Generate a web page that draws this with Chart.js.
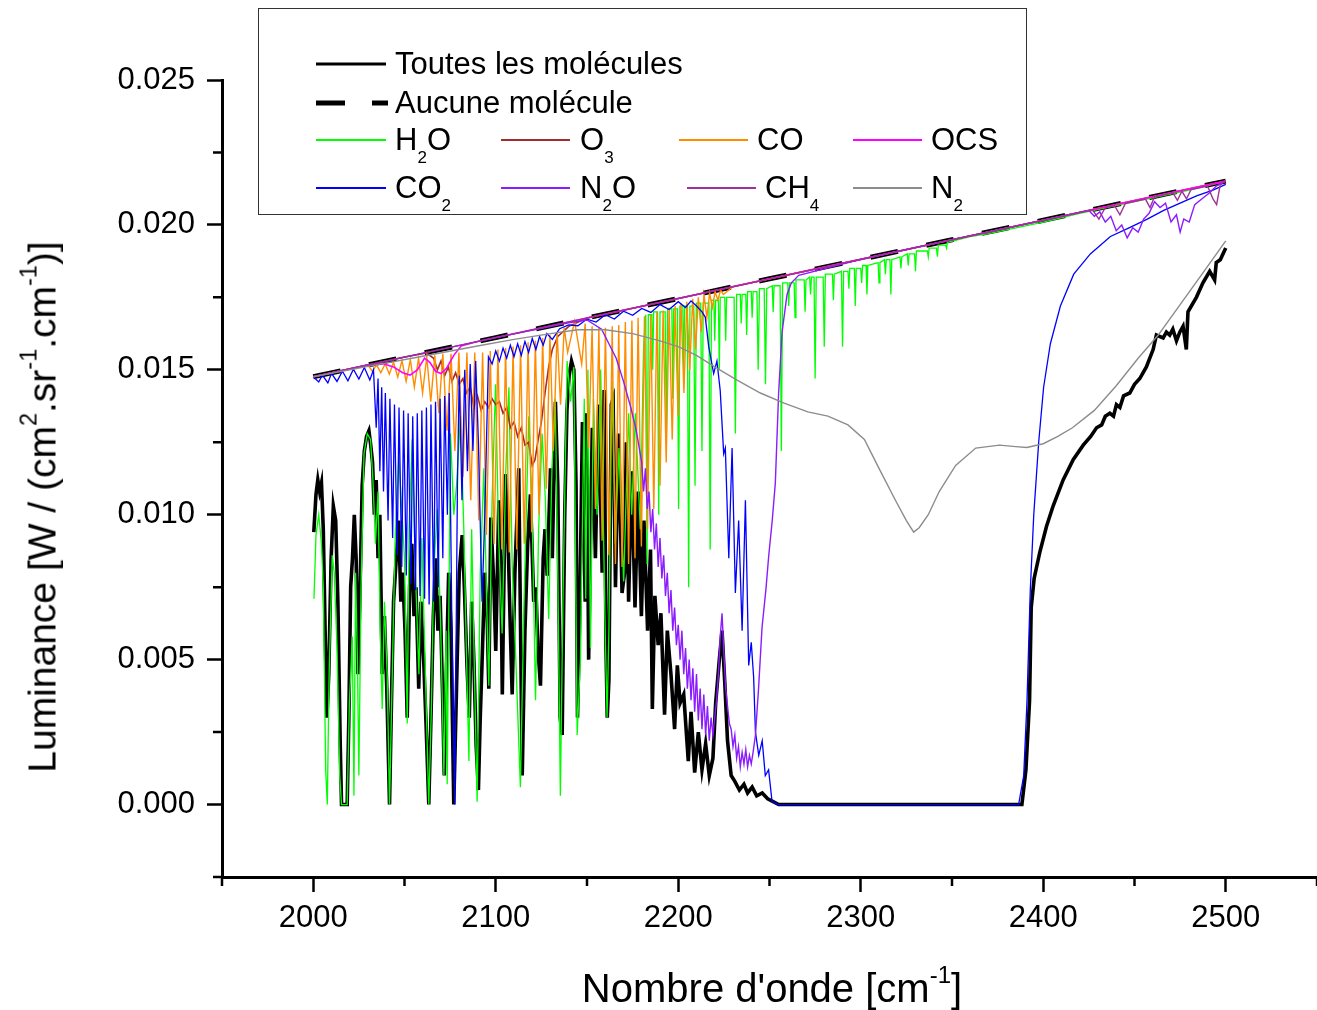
<!DOCTYPE html>
<html lang="fr">
<head>
  <meta charset="UTF-8">
  <title>Luminance - spectre 2000-2500 cm-1</title>
  <style>
    * { box-sizing: border-box; margin: 0; padding: 0; }
    body { background: #fff; font-family: 'Liberation Sans', Arial, sans-serif; color: #000; }
    #wrap { position: relative; width: 1317px; height: 1010px; overflow: hidden; }
    #chart { position: absolute; left: 0; top: 0; }
    .legend-box {
      position: absolute; left: 258px; top: 8px; width: 769px; height: 207px;
      border: 1.5px solid #333;
    }
    .legend-lines { position: absolute; left: 0; top: 0; }
    .lg {
      position: absolute; font-size: 31px; line-height: 1; white-space: nowrap;
    }
    .lg sub { font-size: 0.55em; vertical-align: -0.75em; line-height: 0; }
    .title { position: absolute; line-height: 1; white-space: nowrap; }
    .title sup { font-size: 0.6em; vertical-align: 0.8em; line-height: 0; }
    .xtitle { font-size: 40px; left: 772px; top: 988px; transform: translate(-50%, -50%); }
    .ytitle { font-size: 39px; left: 42px; top: 507px; transform: translate(-50%, -50%) rotate(-90deg); }
  </style>
</head>
<body>
<div id="wrap">
  <canvas id="chart" width="1317" height="1010"></canvas>

  <div class="legend-box"></div>
  <svg class="legend-lines" width="1317" height="230">
    <line x1="316" y1="64" x2="386" y2="64" stroke="#000" stroke-width="3"/>
    <line x1="316" y1="103" x2="345" y2="103" stroke="#000" stroke-width="5"/>
    <line x1="372" y1="103" x2="388" y2="103" stroke="#000" stroke-width="5"/>
    <line x1="316" y1="140" x2="386" y2="140" stroke="#00ff00" stroke-width="2"/>
    <line x1="501" y1="140" x2="570" y2="140" stroke="#a52a2a" stroke-width="2"/>
    <line x1="679" y1="140" x2="748" y2="140" stroke="#ff8c00" stroke-width="2"/>
    <line x1="853" y1="140" x2="922" y2="140" stroke="#ff00ff" stroke-width="2"/>
    <line x1="316" y1="188" x2="386" y2="188" stroke="#0000ff" stroke-width="2"/>
    <line x1="501" y1="188" x2="570" y2="188" stroke="#8a1cff" stroke-width="2"/>
    <line x1="687" y1="188" x2="756" y2="188" stroke="#a0309a" stroke-width="2"/>
    <line x1="853" y1="188" x2="922" y2="188" stroke="#8c8c8c" stroke-width="2"/>
  </svg>
  <span class="lg" style="left:395px;top:48px">Toutes les molécules</span>
  <span class="lg" style="left:395px;top:87px">Aucune molécule</span>
  <span class="lg" style="left:395px;top:124px">H<sub>2</sub>O</span>
  <span class="lg" style="left:580px;top:124px">O<sub>3</sub></span>
  <span class="lg" style="left:757px;top:124px">CO</span>
  <span class="lg" style="left:931px;top:124px">OCS</span>
  <span class="lg" style="left:395px;top:172px">CO<sub>2</sub></span>
  <span class="lg" style="left:580px;top:172px">N<sub>2</sub>O</span>
  <span class="lg" style="left:765px;top:172px">CH<sub>4</sub></span>
  <span class="lg" style="left:931px;top:172px">N<sub>2</sub></span>

  <div class="title ytitle">Luminance [W / (cm<sup>2</sup>.sr<sup>-1</sup>.cm<sup>-1</sup>)]</div>
  <div class="title xtitle">Nombre d'onde [cm<sup>-1</sup>]</div>
</div>

<script src="https://cdn.jsdelivr.net/npm/chart.js"></script>
<script>
  // axis ticks
  const xTicks = [2000, 2100, 2200, 2300, 2400, 2500];
  const xMinor = [1950, 2050, 2150, 2250, 2350, 2450, 2550];
  const yTicks = [0, 0.005, 0.010, 0.015, 0.020, 0.025];
  const yMinor = [-0.0025, 0.0025, 0.0075, 0.0125, 0.0175, 0.0225];

  // Aucune molecule (reference, no absorption)
  const noneX = [2000, 2050, 2100, 2150, 2200, 2250, 2300, 2350, 2400, 2450, 2500];
  const noneY = [0.01476, 0.01544, 0.01611, 0.01679, 0.01746, 0.01814, 0.01881, 0.01949, 0.02016, 0.02084, 0.02151];

  // Toutes les molecules
  const toutesX = [
    2000.3, 2001.5, 2002.5, 2003.5, 2004.5, 2005.5, 2006.5, 2007.5, 2008.5, 2009.8,
    2011.0, 2012.3, 2013.5, 2014.8, 2015.5, 2018.6, 2019.5, 2020.5, 2021.5, 2022.5,
    2023.5, 2024.5, 2025.5, 2026.8, 2028.0, 2029.2, 2030.5, 2031.5, 2032.5, 2033.5,
    2034.5, 2035.5, 2036.5, 2037.8, 2039.0, 2040.3, 2041.8, 2043.0, 2044.0, 2045.5,
    2046.8, 2048.0, 2049.0, 2050.3, 2051.5, 2052.8, 2054.0, 2055.2, 2056.3, 2057.8,
    2059.0, 2060.5, 2061.8, 2063.3, 2064.5, 2065.8, 2067.0, 2068.3, 2069.5, 2070.8,
    2071.8, 2073.0, 2074.2, 2075.5, 2077.0, 2078.5, 2080.0, 2081.6, 2082.8, 2084.3,
    2085.5, 2086.8, 2088.0, 2089.3, 2090.5, 2091.5, 2092.5, 2094.0, 2095.3, 2096.2,
    2097.3, 2099.0, 2100.0, 2101.7, 2102.8, 2103.6, 2105.3, 2106.8, 2108.0, 2109.0,
    2110.5, 2112.6, 2113.6, 2114.5, 2116.0, 2117.5, 2119.0, 2120.8, 2122.0, 2123.0,
    2124.5, 2126.0, 2127.0, 2128.2, 2130.0, 2131.0, 2132.7, 2134.0, 2135.3, 2136.4,
    2137.8, 2139.0, 2140.2, 2141.5, 2142.8, 2144.0, 2144.8, 2146.0, 2147.5, 2149.0,
    2149.9, 2150.9, 2152.9, 2154.6, 2156.4, 2158.3, 2159.4, 2160.4, 2161.1, 2162.0,
    2163.3, 2164.3, 2165.6, 2167.3, 2169.2, 2170.6, 2171.5, 2172.8, 2174.5, 2176.3,
    2178.0, 2179.8, 2181.2, 2183.2, 2184.8, 2185.8, 2187.2, 2189.0, 2190.5, 2192.5,
    2194.0, 2196.0, 2198.0, 2199.5, 2201.0, 2203.0, 2205.5, 2207.0, 2209.0, 2211.0,
    2213.0, 2215.0, 2217.0, 2219.0, 2220.5, 2222.5, 2224.0, 2225.5, 2227.0, 2229.0,
    2231.0, 2233.5, 2236.0, 2238.0, 2240.5, 2243.0, 2246.0, 2249.0, 2252.0, 2255.0,
    2300.0, 2350.0, 2388.3, 2390.5, 2392.5, 2393.4, 2395.0, 2398.1, 2401.8, 2405.4,
    2410.9, 2416.4, 2421.9, 2426.0, 2429.2, 2432.0, 2434.0, 2436.5, 2438.5, 2440.1,
    2442.0, 2444.0, 2447.4, 2450.0, 2452.9, 2456.5, 2460.2, 2462.0, 2465.7, 2467.5,
    2469.3, 2471.0, 2473.0, 2474.8, 2476.6, 2478.4, 2479.3, 2483.9, 2487.5, 2491.2,
    2493.9, 2494.8, 2497.0, 2500.0
  ];
  const toutesY = [
    0.0094, 0.0107, 0.0112, 0.0108, 0.0111, 0.0095, 0.0060, 0.0030, 0.0045, 0.0085,
    0.0103, 0.0098, 0.0070, 0.0020, 0.0000, 0.0000, 0.0030, 0.0075, 0.0085, 0.0100,
    0.0085, 0.0045, 0.0070, 0.0110, 0.0122, 0.0127, 0.0129, 0.0124, 0.0118, 0.0100,
    0.0112, 0.0085, 0.0100, 0.0045, 0.0065, 0.0040, 0.0000, 0.0040, 0.0070, 0.0085,
    0.0098, 0.0070, 0.0080, 0.0060, 0.0030, 0.0075, 0.0090, 0.0065, 0.0075, 0.0040,
    0.0070, 0.0050, 0.0028, 0.0000, 0.0030, 0.0065, 0.0085, 0.0060, 0.0072, 0.0040,
    0.0010, 0.0047, 0.0080, 0.0060, 0.0000, 0.0040, 0.0080, 0.0093, 0.0075, 0.0047,
    0.0030, 0.0070, 0.0050, 0.0020, 0.0005, 0.0030, 0.0049, 0.0080, 0.0065, 0.0040,
    0.0099, 0.0075, 0.0053, 0.0105, 0.0080, 0.0038, 0.0114, 0.0090, 0.0060, 0.0038,
    0.0080, 0.0116, 0.0060, 0.0010, 0.0060, 0.0090, 0.0107, 0.0070, 0.0075, 0.0055,
    0.0041, 0.0085, 0.0095, 0.0079, 0.0116, 0.0085, 0.0139, 0.0110, 0.0030, 0.0024,
    0.0100, 0.0136, 0.0148, 0.0153, 0.0150, 0.0110, 0.0030, 0.0065, 0.0132, 0.0070,
    0.0135, 0.0050, 0.0130, 0.0085, 0.0138, 0.0080, 0.0143, 0.0055, 0.0030, 0.0043,
    0.0138, 0.0140, 0.0075, 0.0128, 0.0073, 0.0080, 0.0125, 0.0070, 0.0115, 0.0068,
    0.0108, 0.0065, 0.0098, 0.0060, 0.0088, 0.0033, 0.0072, 0.0055, 0.0066, 0.0031,
    0.0060, 0.0045, 0.0026, 0.0048, 0.0035, 0.0038, 0.0015, 0.0032, 0.0011, 0.0025,
    0.0012, 0.0021, 0.0010, 0.0016, 0.0035, 0.0050, 0.0060, 0.0042, 0.0022, 0.0010,
    0.0008, 0.0005, 0.0007, 0.0004, 0.0006, 0.0003, 0.0004, 0.0002, 0.0001, 0.0000,
    0.0000, 0.0000, 0.0000, 0.0012, 0.0036, 0.0068, 0.0078, 0.0087, 0.0096, 0.0103,
    0.0112, 0.0119, 0.0124, 0.0127, 0.0130, 0.0131, 0.0134, 0.0135, 0.0134, 0.0138,
    0.0137, 0.0141, 0.0142, 0.0145, 0.0147, 0.0151, 0.0157, 0.0162, 0.0161, 0.0163,
    0.0162, 0.0164, 0.0160, 0.0163, 0.0165, 0.0157, 0.0170, 0.0175, 0.0180, 0.0184,
    0.0181, 0.0187, 0.0188, 0.0192
  ];

  // H2O
  const h2oX = [
    2000.4, 2001.5, 2003.0, 2004.5, 2005.5, 2006.8, 2007.7, 2008.7, 2010.4, 2011.5,
    2013.0, 2014.5, 2015.5, 2018.6, 2019.8, 2021.4, 2022.3, 2023.2, 2024.2, 2025.0,
    2026.2, 2027.8, 2029.6, 2031.4, 2032.7, 2034.1, 2035.5, 2036.7, 2037.8, 2039.0,
    2040.5, 2041.8, 2043.3, 2044.8, 2046.9, 2048.5, 2050.0, 2051.5, 2052.5, 2054.2,
    2056.0, 2057.9, 2059.5, 2061.0, 2063.3, 2064.8, 2066.0, 2067.9, 2069.8, 2071.6,
    2072.8, 2073.4, 2075.2, 2077.0, 2078.5, 2080.7, 2082.5, 2084.0, 2085.3, 2086.8,
    2088.5, 2089.8, 2091.5, 2093.5, 2095.0, 2096.2, 2098.0, 2099.9, 2101.5, 2103.5,
    2105.5, 2107.2, 2109.0, 2111.0, 2113.5, 2115.5, 2118.1, 2119.8, 2121.8, 2123.5,
    2125.4, 2127.2, 2129.0, 2130.8, 2132.6, 2134.0, 2135.4, 2136.8, 2139.1, 2141.0,
    2142.8, 2144.6, 2146.4, 2148.5, 2149.3, 2150.5, 2151.9, 2153.5, 2155.5, 2157.5,
    2160.0, 2161.0, 2162.0, 2163.7, 2165.5, 2167.5, 2170.1, 2172.8, 2174.5, 2176.5,
    2179.2, 2181.0,
    2182.2, 2182.9, 2183.6, 2185.5, 2186.0, 2186.5, 2188.6, 2189.3, 2190.0,
    2192.8, 2193.5, 2194.2, 2196.5, 2197.0, 2197.5, 2199.5, 2200.2, 2200.9,
    2202.5, 2203.0, 2203.5, 2205.0, 2205.7, 2206.4, 2208.5, 2209.2, 2209.9,
    2212.3, 2213.0, 2213.7, 2216.8, 2217.5, 2218.2, 2219.5, 2220.0, 2220.5,
    2222.0, 2222.5, 2223.0, 2225.5, 2226.0, 2226.5, 2230.6, 2231.3, 2232.0,
    2234.0, 2234.5, 2235.0, 2237.0, 2237.5, 2238.0, 2240.0, 2240.5, 2241.0,
    2243.1, 2243.8, 2244.5, 2247.1, 2247.8, 2248.5, 2251.5, 2252.0, 2252.5,
    2255.8, 2256.5, 2257.2, 2260.0, 2260.5, 2261.0, 2263.5, 2264.0, 2264.5,
    2269.0, 2269.5, 2270.0, 2272.0, 2272.5, 2273.0, 2274.4, 2275.0, 2275.6,
    2279.4, 2280.0, 2280.6, 2284.5, 2285.0, 2285.5, 2289.4, 2290.0, 2290.6,
    2293.0, 2293.5, 2294.0, 2296.5, 2297.0, 2297.5, 2300.0, 2300.5, 2301.0,
    2302.9, 2303.4, 2303.9, 2309.5, 2310.0, 2310.5, 2313.0, 2313.5, 2314.0,
    2316.0, 2316.5, 2317.0, 2321.5, 2322.0, 2322.5, 2325.5, 2326.0, 2326.5,
    2329.5, 2330.0, 2330.5, 2336.5, 2337.0, 2337.5, 2341.5, 2342.0, 2342.5,
    2346.5, 2347.0, 2347.5, 2360, 2370, 2400, 2420, 2450, 2480, 2500
  ];
  const h2oY = [
    0.0071, 0.0093, 0.0100, 0.0090, 0.0075, 0.0012, 0.0000, 0.0045, 0.0086, 0.0080,
    0.0055, 0.0010, 0.0000, 0.0000, 0.0035, 0.0058, 0.0003, 0.0080, 0.0050, 0.0010,
    0.0075, 0.0121, 0.0128, 0.0126, 0.0112, 0.0090, 0.0108, 0.0060, 0.0033, 0.0070,
    0.0045, 0.0000, 0.0045, 0.0090, 0.0120, 0.0102, 0.0085, 0.0028, 0.0095, 0.0126,
    0.0080, 0.0045, 0.0092, 0.0056, 0.0000, 0.0035, 0.0080, 0.0102, 0.0062, 0.0010,
    0.0060, 0.0007, 0.0128, 0.0100, 0.0110, 0.0134, 0.0095, 0.0050, 0.0015, 0.0095,
    0.0040, 0.0001, 0.0080, 0.0116, 0.0070, 0.0041, 0.0105, 0.0145, 0.0094, 0.0059,
    0.0115, 0.0144, 0.0083, 0.0050, 0.0006, 0.0070, 0.0134, 0.0105, 0.0036, 0.0095,
    0.0128, 0.0105, 0.0064, 0.0116, 0.0140, 0.0080, 0.0003, 0.0070, 0.0153, 0.0139,
    0.0151, 0.0024, 0.0050, 0.0140, 0.0071, 0.0150, 0.0054, 0.0140, 0.0100, 0.0150,
    0.0059, 0.0030, 0.0060, 0.0146, 0.0090, 0.0123, 0.0077, 0.0135, 0.0100, 0.0135,
    0.0095, 0.0158,
    0.0169, 0.0083, 0.0169, 0.0169, 0.0150, 0.0170, 0.0170, 0.0100, 0.0170,
    0.0170, 0.0128, 0.0171, 0.0171, 0.0140, 0.0171, 0.0171, 0.0102, 0.0172,
    0.0172, 0.0150, 0.0172, 0.0172, 0.0075, 0.0172, 0.0172, 0.0110, 0.0173,
    0.0173, 0.0122, 0.0173, 0.0173, 0.0088, 0.0174, 0.0174, 0.0160, 0.0174,
    0.0174, 0.0150, 0.0175, 0.0175, 0.0160, 0.0175, 0.0175, 0.0128, 0.0176,
    0.0176, 0.0166, 0.0176, 0.0176, 0.0162, 0.0177, 0.0177, 0.0168, 0.0177,
    0.0177, 0.0150, 0.0178, 0.0178, 0.0145, 0.0178, 0.0179, 0.0170, 0.0179,
    0.0179, 0.0122, 0.0180, 0.0180, 0.0172, 0.0180, 0.0180, 0.0168, 0.0181,
    0.0181, 0.0170, 0.0181, 0.0182, 0.0176, 0.0182, 0.0182, 0.0147, 0.0182,
    0.0182, 0.0158, 0.0183, 0.0183, 0.0174, 0.0183, 0.0184, 0.0158, 0.0184,
    0.0184, 0.0178, 0.0185, 0.0185, 0.0172, 0.0185, 0.0185, 0.0180, 0.0186,
    0.0186, 0.0176, 0.0186, 0.0187, 0.0180, 0.0187, 0.0188, 0.0183, 0.0188,
    0.0188, 0.0176, 0.0188, 0.0189, 0.0185, 0.0189, 0.0190, 0.0186, 0.0190,
    0.0190, 0.0184, 0.0191, 0.0191, 0.0189, 0.0192, 0.0192, 0.0189, 0.0193,
    0.0193, 0.0192, 0.0194, 0.0196, 0.0197, 0.0201, 0.0204, 0.0208, 0.0212, 0.0215
  ];

  // O3
  const o3X = [
    2000, 2050, 2062, 2066, 2068, 2070, 2072, 2074, 2076, 2078,
    2080, 2082, 2084, 2086, 2088, 2090, 2092, 2094, 2096, 2098,
    2100, 2102, 2104, 2106, 2108, 2110, 2112, 2114, 2116, 2118,
    2120, 2121.5, 2123, 2125, 2127, 2129, 2131, 2134, 2140, 2150,
    2200, 2250, 2300, 2350, 2400, 2450, 2500
  ];
  const o3Y = [
    0.01476, 0.01544, 0.01558, 0.01540, 0.01500, 0.01530, 0.01480, 0.01510, 0.01460, 0.01490,
    0.01450, 0.01470, 0.01420, 0.01440, 0.01370, 0.01410, 0.01360, 0.01390, 0.01370, 0.01400,
    0.01380, 0.01390, 0.01350, 0.01370, 0.01300, 0.01320, 0.01270, 0.01300, 0.01240, 0.01250,
    0.01170, 0.01190, 0.01250, 0.01320, 0.01420, 0.01510, 0.01570, 0.01615, 0.01650, 0.01679,
    0.01746, 0.01814, 0.01881, 0.01949, 0.02016, 0.02084, 0.02151
  ];

  // CO
  const coX = [
    2000, 2025, 2030.2, 2032.4, 2034.7, 2037.0, 2039.4, 2041.7, 2044.0, 2046.3,
    2048.6, 2050.9, 2053.2, 2055.4, 2057.7, 2059.9, 2062.2, 2064.4, 2066.6, 2068.8,
    2071.0, 2073.3, 2075.5, 2077.6, 2079.8, 2082.0, 2084.2, 2086.3, 2088.5, 2090.7,
    2092.8, 2094.9, 2097.0, 2099.1, 2101.2, 2103.3, 2105.4, 2107.4, 2109.5, 2111.5,
    2113.6, 2115.6, 2117.7, 2119.7, 2121.7, 2123.7, 2125.7, 2127.7, 2129.7, 2131.6,
    2133.6, 2135.5, 2137.5, 2139.4, 2143.2, 2147.1, 2149.0, 2150.9, 2152.8, 2154.6,
    2156.5, 2158.3, 2160.1, 2162.0, 2163.8, 2165.6, 2167.4, 2169.2, 2171.0, 2172.8,
    2174.6, 2176.3, 2178.0, 2179.8, 2181.5, 2183.2, 2184.9, 2186.6, 2188.3, 2190.0,
    2191.7, 2193.4, 2195.0, 2196.7, 2198.3, 2199.9, 2201.5, 2203.1, 2204.7, 2206.3,
    2207.9, 2209.5, 2211.0, 2212.6, 2214.1, 2215.7, 2217.2, 2218.7, 2220.2, 2221.7,
    2223.2, 2224.7, 2230, 2250, 2300, 2350, 2400, 2450, 2500
  ];
  const coY = [
    0.01476, 0.01510, 0.01514, 0.01495, 0.01517, 0.01490, 0.01520, 0.01485, 0.01526, 0.01475,
    0.01532, 0.01460, 0.01535, 0.01440, 0.01540, 0.01420, 0.01545, 0.01390, 0.01550, 0.01350,
    0.01555, 0.01290, 0.01555, 0.01220, 0.01560, 0.01130, 0.01560, 0.01050, 0.01560, 0.00980,
    0.01560, 0.00930, 0.01565, 0.00900, 0.01570, 0.00880, 0.01575, 0.00870, 0.01580, 0.00880,
    0.01585, 0.00900, 0.01595, 0.00940, 0.01600, 0.01000, 0.01610, 0.01090, 0.01620, 0.01220,
    0.01630, 0.01380, 0.01645, 0.01560, 0.01668, 0.01520, 0.01660, 0.01230, 0.01650, 0.01020,
    0.01645, 0.00910, 0.01645, 0.00860, 0.01650, 0.00830, 0.01655, 0.00820, 0.01665, 0.00830,
    0.01670, 0.00850, 0.01680, 0.00890, 0.01685, 0.00950, 0.01690, 0.01020, 0.01700, 0.01100,
    0.01705, 0.01180, 0.01715, 0.01260, 0.01720, 0.01340, 0.01730, 0.01420, 0.01735, 0.01500,
    0.01745, 0.01570, 0.01750, 0.01630, 0.01758, 0.01680, 0.01765, 0.01715, 0.01770, 0.01740,
    0.01775, 0.01760, 0.01787, 0.01814, 0.01881, 0.01949, 0.02016, 0.02084, 0.02151
  ];

  // OCS
  const ocsX = [2000, 2030, 2038, 2044, 2049, 2053, 2057, 2061, 2064, 2067, 2070, 2073,
                2077, 2081, 2090, 2150, 2200, 2250, 2300, 2350, 2400, 2450, 2500];
  const ocsY = [0.01476, 0.01517, 0.01522, 0.01510, 0.01490, 0.01482, 0.01500, 0.01540, 0.01525, 0.01495, 0.01487, 0.01505,
                0.01550, 0.01582, 0.01598, 0.01679, 0.01746, 0.01814, 0.01881, 0.01949, 0.02016, 0.02084, 0.02151];

  // CO2
  const co2X = [
    2000, 2003, 2005, 2008, 2010, 2013, 2016, 2019, 2022, 2025,
    2028, 2031, 2033, 2034.5, 2035.5, 2036.5, 2037.5, 2038.5, 2039.5, 2041,
    2042, 2043.5, 2044.5, 2046, 2047, 2048.5, 2049.5, 2051, 2052, 2053.5,
    2054.5, 2056, 2057, 2058.5, 2059.5, 2061, 2062, 2063.5, 2064.5, 2066,
    2067, 2068.5, 2069.5, 2071, 2072, 2073.5, 2074.5, 2076, 2077.5, 2079,
    2080, 2081.5, 2083, 2084.5, 2086, 2087.5, 2089, 2090.5, 2092.5, 2094,
    2096, 2098, 2100, 2102, 2104, 2106, 2108, 2110, 2112, 2114,
    2116, 2118, 2120, 2122, 2124, 2126, 2128, 2131, 2135, 2140,
    2145, 2150, 2155, 2160, 2165, 2170, 2175, 2180, 2185, 2190,
    2195, 2200, 2204, 2207, 2210, 2213, 2214.8, 2216.7, 2219.4, 2221.2,
    2223, 2224.9, 2225.8, 2227.7, 2229.5, 2231.3, 2233.1, 2235, 2236.8, 2238.6,
    2240, 2241.3, 2242.3, 2244.1, 2246, 2247.7, 2249.5, 2251.4, 2253, 2255,
    2300, 2386.5, 2389.3, 2391.1, 2392.9, 2394.8, 2397.5, 2400.2, 2403.9, 2409.4,
    2416.7, 2425.8, 2436.8, 2447, 2457, 2466, 2475, 2484, 2493, 2500
  ];
  const co2Y = [
    0.01476, 0.01458, 0.01482, 0.01455, 0.01488, 0.01460, 0.01495, 0.01462, 0.01502, 0.01468,
    0.01508, 0.01465, 0.01500, 0.01300, 0.01470, 0.01150, 0.01440, 0.01080, 0.01420, 0.00980,
    0.01400, 0.00920, 0.01380, 0.00860, 0.01370, 0.00820, 0.01360, 0.00790, 0.01350, 0.00760,
    0.01340, 0.00740, 0.01350, 0.00720, 0.01360, 0.00710, 0.01370, 0.00690, 0.01380, 0.00700,
    0.01390, 0.00750, 0.01400, 0.00850, 0.01410, 0.01000, 0.01420, 0.00600, 0.00000, 0.01100,
    0.01480, 0.01050, 0.01500, 0.01150, 0.01520, 0.01220, 0.01530, 0.01250, 0.00700, 0.01000,
    0.01545, 0.01520, 0.01565, 0.01530, 0.01575, 0.01540, 0.01585, 0.01545, 0.01590, 0.01550,
    0.01598, 0.01560, 0.01608, 0.01570, 0.01615, 0.01585, 0.01625, 0.01605, 0.01642, 0.01655,
    0.01652, 0.01675, 0.01665, 0.01690, 0.01675, 0.01702, 0.01688, 0.01712, 0.01698, 0.01725,
    0.01708, 0.01735, 0.01715, 0.01738, 0.01720, 0.01700, 0.01682, 0.01580, 0.01487, 0.01530,
    0.01428, 0.01210, 0.01230, 0.00850, 0.01230, 0.00730, 0.00980, 0.00600, 0.01050, 0.00480,
    0.00560, 0.00440, 0.00250, 0.00170, 0.00220, 0.00100, 0.00120, 0.00010, 0.00005, 0,
    0, 0, 0.00100, 0.00357, 0.00740, 0.01000, 0.01250, 0.01440, 0.01590, 0.01720,
    0.01830, 0.01900, 0.01960, 0.01990, 0.02020, 0.02050, 0.02075, 0.02100, 0.02120, 0.02140
  ];

  // N2O
  const n2oX = [
    2000, 2050, 2100, 2140, 2150, 2158, 2162, 2166, 2170, 2174,
    2177, 2180, 2181, 2182, 2183, 2184, 2185, 2186, 2187, 2188,
    2189, 2190, 2191, 2192, 2193, 2194, 2195, 2196, 2197, 2198,
    2199, 2200, 2201, 2202, 2203, 2204, 2205, 2206, 2207, 2208,
    2209, 2210, 2211, 2212, 2213, 2214, 2215, 2216, 2217, 2218,
    2219, 2220, 2221, 2222, 2223, 2224, 2225, 2226, 2227, 2228,
    2229, 2230, 2231, 2232, 2233, 2234, 2235, 2236, 2237, 2238,
    2239, 2240, 2241, 2242.3, 2244, 2245.9, 2248, 2249.6, 2251.5, 2253.2,
    2255, 2256.9, 2259.6, 2262, 2266, 2300, 2350, 2400, 2425, 2428,
    2431, 2434, 2437, 2440, 2443, 2446, 2449, 2452, 2455, 2458,
    2461, 2464, 2467, 2470, 2473, 2475, 2477, 2480, 2483, 2487,
    2491, 2495, 2500
  ];
  const n2oY = [
    0.01476, 0.01544, 0.01611, 0.01662, 0.01672, 0.01640, 0.01590, 0.01540, 0.01460, 0.01370,
    0.01290, 0.01180, 0.01080, 0.01160, 0.01020, 0.01080, 0.00940, 0.01020, 0.00880, 0.00970,
    0.00820, 0.00920, 0.00780, 0.00860, 0.00720, 0.00800, 0.00660, 0.00740, 0.00600, 0.00680,
    0.00550, 0.00620, 0.00500, 0.00600, 0.00450, 0.00540, 0.00400, 0.00500, 0.00360, 0.00470,
    0.00320, 0.00450, 0.00290, 0.00400, 0.00260, 0.00380, 0.00240, 0.00340, 0.00220, 0.00300,
    0.00240, 0.00300, 0.00360, 0.00450, 0.00580, 0.00660, 0.00520, 0.00400, 0.00340, 0.00280,
    0.00260, 0.00200, 0.00240, 0.00160, 0.00200, 0.00130, 0.00180, 0.00140, 0.00190, 0.00130,
    0.00170, 0.00140, 0.00180, 0.00240, 0.00400, 0.00610, 0.00740, 0.00860, 0.00980, 0.01110,
    0.01420, 0.01630, 0.01760, 0.01800, 0.01826, 0.01881, 0.01949, 0.02016, 0.02050, 0.02030,
    0.02045, 0.02010, 0.02030, 0.01980, 0.02000, 0.01955, 0.01990, 0.01975, 0.02020, 0.02040,
    0.02080, 0.02060, 0.02075, 0.02010, 0.02035, 0.01975, 0.02020, 0.02010, 0.02070, 0.02090,
    0.02110, 0.02135, 0.02151
  ];

  // CH4
  const ch4X = [2000, 2100, 2200, 2300, 2400, 2427, 2430.5, 2434, 2439, 2442, 2445, 2456, 2458.5,
                2461, 2463.5, 2471, 2473.5, 2476, 2478.5, 2481, 2490, 2493, 2495, 2497, 2500];
  const ch4Y = [0.01476, 0.01611, 0.01746, 0.01881, 0.02016, 0.02052, 0.02020, 0.02060, 0.02067, 0.02035, 0.02074, 0.02089, 0.02060,
                0.02097, 0.02100, 0.02111, 0.02085, 0.02116, 0.02090, 0.02122, 0.02134, 0.02090, 0.02070, 0.02140, 0.02151];

  // N2
  const n2X = [
    2000, 2030, 2060, 2090, 2110, 2130, 2145, 2160, 2175, 2190,
    2200, 2210, 2220, 2232, 2245, 2258, 2271, 2282, 2293, 2302,
    2310, 2319, 2325, 2329, 2332, 2337, 2343, 2352, 2363, 2376,
    2385, 2391, 2400, 2408, 2416, 2428, 2440, 2452, 2463, 2475,
    2487, 2500
  ];
  const n2Y = [
    0.01476, 0.01512, 0.01547, 0.01582, 0.01605, 0.01625, 0.01638, 0.01638, 0.01625, 0.01600,
    0.01580, 0.01550, 0.01510, 0.01465, 0.01420, 0.01385, 0.01355, 0.01340, 0.01310, 0.01260,
    0.01160, 0.01050, 0.00980, 0.00940, 0.00955, 0.01000, 0.01080, 0.01170, 0.01230, 0.01240,
    0.01235, 0.01232, 0.01245, 0.01270, 0.01300, 0.01360, 0.01445, 0.01540, 0.01620, 0.01725,
    0.01830, 0.01945
  ];

  const FONT = "'Liberation Sans', Arial, sans-serif";

  function pts(xs, ys) {
    return xs.map((x, i) => ({ x: x, y: ys[i] }));
  }

  function series(label, xs, ys, color, width, order, extra) {
    return Object.assign({
      label: label,
      data: pts(xs, ys),
      borderColor: color,
      borderWidth: width,
      pointRadius: 0,
      tension: 0,
      fill: false,
      order: order
    }, extra || {});
  }

  // small ticks between the labelled ones
  const minorTicks = {
    id: 'minorTicks',
    afterDraw(chart) {
      const { ctx, scales: { x, y } } = chart;
      ctx.save();
      ctx.strokeStyle = '#000';
      ctx.lineWidth = 2.5;
      ctx.beginPath();
      xMinor.forEach(v => {
        const px = x.getPixelForValue(v);
        ctx.moveTo(px, x.top);
        ctx.lineTo(px, x.top + 9);
      });
      yMinor.forEach(v => {
        const py = y.getPixelForValue(v);
        ctx.moveTo(y.right, py);
        ctx.lineTo(y.right - 9, py);
      });
      ctx.stroke();
      ctx.restore();
    }
  };

  new Chart(document.getElementById('chart').getContext('2d'), {
    type: 'line',
    data: {
      datasets: [
        series('Toutes les molécules', toutesX, toutesY, '#000000', 3.6, 10),
        series('Aucune molécule', noneX, noneY, '#000000', 5, 9, { borderDash: [28, 29] }),
        series('H2O', h2oX, h2oY, '#00ff00', 1.3, 8),
        series('O3', o3X, o3Y, '#a52a2a', 1.6, 7),
        series('CO', coX, coY, '#ff8c00', 1.4, 6),
        series('OCS', ocsX, ocsY, '#ff00ff', 1.6, 5),
        series('CO2', co2X, co2Y, '#0000ff', 1.3, 4),
        series('N2O', n2oX, n2oY, '#8a1cff', 1.4, 3),
        series('CH4', ch4X, ch4Y, '#a0309a', 1.4, 2),
        series('N2', n2X, n2Y, '#8c8c8c', 1.4, 1)
      ]
    },
    options: {
      responsive: false,
      devicePixelRatio: 1,
      animation: false,
      events: [],
      layout: { padding: { top: 80, right: 0, bottom: 0, left: 0 } },
      plugins: { legend: { display: false }, tooltip: { enabled: false } },
      scales: {
        x: {
          type: 'linear',
          min: 1950,
          max: 2550,
          afterBuildTicks: s => { s.ticks = xTicks.map(v => ({ value: v })); },
          afterFit: s => { s.height = 133; },
          ticks: {
            color: '#000',
            font: { family: FONT, size: 31 },
            padding: 8,
            maxRotation: 0,
            autoSkip: false,
            callback: v => String(v)
          },
          grid: { drawOnChartArea: false, drawTicks: true, tickLength: 15, tickWidth: 2.5, tickColor: '#000' },
          border: { display: true, color: '#000', width: 3 }
        },
        y: {
          type: 'linear',
          min: -0.0025,
          max: 0.025,
          afterBuildTicks: s => { s.ticks = yTicks.map(v => ({ value: v })); },
          afterFit: s => { s.width = 222; },
          ticks: {
            color: '#000',
            font: { family: FONT, size: 31 },
            padding: 12,
            autoSkip: false,
            callback: v => Number(v).toFixed(3)
          },
          grid: { drawOnChartArea: false, drawTicks: true, tickLength: 15, tickWidth: 2.5, tickColor: '#000' },
          border: { display: true, color: '#000', width: 3 }
        }
      }
    },
    plugins: [minorTicks]
  });
</script>
</body>
</html>
